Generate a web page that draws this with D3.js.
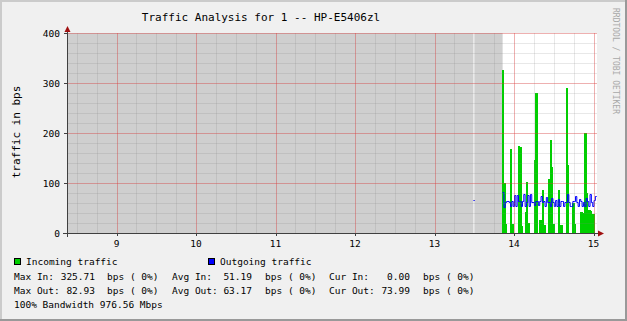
<!DOCTYPE html>
<html>
<head>
<meta charset="utf-8">
<script src="https://cdn.jsdelivr.net/npm/d3@7/dist/d3.min.js"></script>
<style>
  body { margin: 0; background: #f0f0f0; }
  svg { display: block; }
  text { font-family: "DejaVu Sans Mono", monospace; fill: #000; }
</style>
</head>
<body>
<svg id="chart" width="627" height="321"></svg>
<script>
// Datos (muestras de 1 minuto, la primera a las 13:29)
var firstSample = 13.49;   // hora de la primera muestra
var stepMin = 1;           // minutos por muestra

var incoming = [0,
  null, null, null, null, null, null, null, null, null, null, null,
  null, null, null, null, null, null, null, null, null, null,
  326, 100, 18, 0, 0, 0, 168, 18, 0, 0,
  0, 0, 174, 172, 15, 0, 0, 43, 102, 20,
  0, 0, 0, 0, 146, 281, 0, 0, 26, 0,
  86, 16, 0, 0, 0, 109, 186, 133, 18, 0,
  0, 0, 85, 16, 16, 0, 0, 0, 291, 136,
  0, 0, 0, 61, 18, 0, 0, 0, 0, 43,
  40, 40, 199, 80, 0, 47, 45, 38, 38, 0, 0];

var outgoing = [66,
  null, null, null, null, null, null, null, null, null, null, null,
  null, null, null, null, null, null, null, null, null, null,
  83, 53, 62, 64, 64, 62, 55, 65, 55, 77,
  55, 76, 64, 64, 55, 64, 79, 55, 63, 76,
  55, 79, 63, 63, 57, 64, 64, 57, 64, 74,
  63, 64, 55, 73, 63, 63, 55, 71, 63, 55,
  66, 55, 69, 55, 64, 64, 55, 63, 63, 78,
  63, 55, 55, 65, 65, 74, 63, 55, 69, 64,
  55, 62, 55, 71, 64, 55, 78, 63, 55, 66, 74];

var xTicks = [9, 10, 11, 12, 13, 14, 15];
var yTicks = [0, 100, 200, 300, 400];

var legendRows = [
  [["Max In:", 14, "start"], ["325.71", 95, "end"], ["bps ( 0%)", 107, "start"],
   ["Avg In:", 172, "start"], ["51.19", 252, "end"], ["bps ( 0%)", 265, "start"],
   ["Cur In:", 329, "start"], ["0.00", 410, "end"], ["bps ( 0%)", 423, "start"]],
  [["Max Out:", 14, "start"], ["82.93", 95, "end"], ["bps ( 0%)", 107, "start"],
   ["Avg Out:", 172, "start"], ["63.17", 252, "end"], ["bps ( 0%)", 265, "start"],
   ["Cur Out:", 329, "start"], ["73.99", 410, "end"], ["bps ( 0%)", 423, "start"]]
];

var svg = d3.select("#chart");
var W = 627, H = 321;

// Fondo con sombra estilo rrdtool
svg.append("rect").attr("width", W).attr("height", H).attr("fill", "#f0f0f0");
svg.append("rect").attr("x", 0).attr("y", 0).attr("width", W).attr("height", 2).attr("fill", "#cbcbcb");
svg.append("rect").attr("x", 0).attr("y", 0).attr("width", 2).attr("height", H).attr("fill", "#cbcbcb");
svg.append("rect").attr("x", 0).attr("y", H - 2).attr("width", W).attr("height", 2).attr("fill", "#999999");
svg.append("rect").attr("x", W - 2).attr("y", 0).attr("width", 2).attr("height", H).attr("fill", "#999999");

// Escalas
var x = d3.scaleLinear().domain([8.377, 15.044]).range([67, 597]);
var y = d3.scaleLinear().domain([0, 400]).range([233, 33]);

var defs = svg.append("defs");
defs.append("clipPath").attr("id", "plot")
  .append("rect").attr("x", x.range()[0]).attr("y", y.range()[1])
  .attr("width", x.range()[1] - x.range()[0]).attr("height", y.range()[0] - y.range()[1]);

// Area del grafico
svg.append("rect")
  .attr("x", x.range()[0]).attr("y", y.range()[1])
  .attr("width", x.range()[1] - x.range()[0]).attr("height", y.range()[0] - y.range()[1])
  .attr("fill", "#ffffff");

var hourOf = function(i) { return firstSample + i * stepMin / 60; };

// Zonas sin datos (gris)
var gaps = [[x.domain()[0], firstSample]];
var gapStart = null;
incoming.forEach(function(v, i) {
  if (v === null && gapStart === null) gapStart = hourOf(i);
  if (v !== null && gapStart !== null) { gaps.push([gapStart, hourOf(i)]); gapStart = null; }
});
svg.append("g").attr("clip-path", "url(#plot)")
  .selectAll("rect").data(gaps).enter().append("rect")
  .attr("x", d => x(d[0]))
  .attr("width", d => x(d[1]) - x(d[0]))
  .attr("y", y(400)).attr("height", y(0) - y(400))
  .attr("fill", "#cfcfcf");

var plotG = svg.append("g").attr("clip-path", "url(#plot)");

// Trafico entrante (barras verdes, una por muestra)
var bars = incoming.map(function(v, i) { return { i: i, v: v }; })
  .filter(d => d.v !== null && d.v > 0);
plotG.selectAll(".in").data(bars).enter().append("rect")
  .attr("x", d => Math.floor(x(hourOf(d.i))))
  .attr("width", d => Math.ceil(x(hourOf(d.i + 1))) - Math.floor(x(hourOf(d.i))))
  .attr("y", d => Math.round(y(d.v)))
  .attr("height", d => y(0) - Math.round(y(d.v)))
  .attr("fill", "#00cf00")
  .attr("shape-rendering", "crispEdges");

// Rejilla
var minorX = d3.range(Math.ceil(x.domain()[0] * 4), Math.floor(x.domain()[1] * 4) + 1).map(d => d / 4);
var minorY = d3.range(0, 401, 20);
var grid = svg.append("g").attr("shape-rendering", "crispEdges");
grid.selectAll(".mx").data(minorX).enter().append("line")
  .attr("x1", d => Math.round(x(d)) + 0.5).attr("x2", d => Math.round(x(d)) + 0.5)
  .attr("y1", y(400)).attr("y2", y(0))
  .attr("stroke", "rgba(128,128,128,0.18)");
grid.selectAll(".my").data(minorY).enter().append("line")
  .attr("x1", x.range()[0]).attr("x2", x.range()[1])
  .attr("y1", d => Math.round(y(d)) + 0.5).attr("y2", d => Math.round(y(d)) + 0.5)
  .attr("stroke", "rgba(128,128,128,0.18)");
grid.selectAll(".Mx").data(xTicks).enter().append("line")
  .attr("x1", d => Math.round(x(d)) + 0.5).attr("x2", d => Math.round(x(d)) + 0.5)
  .attr("y1", y(400)).attr("y2", y(0))
  .attr("stroke", "rgba(255,32,32,0.28)");
grid.selectAll(".My").data(yTicks).enter().append("line")
  .attr("x1", x.range()[0]).attr("x2", x.range()[1])
  .attr("y1", d => Math.round(y(d)) + 0.5).attr("y2", d => Math.round(y(d)) + 0.5)
  .attr("stroke", "rgba(255,32,32,0.28)");

// Construir puntos en escalon
function stepPoints(arr) {
  var pts = [];
  arr.forEach(function(v, i) {
    if (v === null) { pts.push({ t: hourOf(i), v: null }); return; }
    pts.push({ t: hourOf(i), v: v });
    if (i + 1 >= arr.length || arr[i + 1] === null) pts.push({ t: hourOf(i + 1), v: v });
  });
  return pts;
}

// Trafico saliente (linea azul)
var line = d3.line()
  .defined(d => d.v !== null)
  .curve(d3.curveStepAfter)
  .x(d => x(d.t))
  .y(d => Math.round(y(d.v)) + 0.5);
plotG.append("path")
  .datum(stepPoints(outgoing))
  .attr("d", line)
  .attr("fill", "none")
  .attr("stroke", "#0000ff")
  .attr("stroke-width", 1);

// Ejes
var axisG = svg.append("g").attr("shape-rendering", "crispEdges");
axisG.append("line").attr("x1", 63).attr("x2", 599).attr("y1", y(0) + 0.5).attr("y2", y(0) + 0.5).attr("stroke", "#404040");
axisG.append("line").attr("x1", 67.5).attr("x2", 67.5).attr("y1", y(0) + 4).attr("y2", 30).attr("stroke", "#404040");
xTicks.forEach(function(t) {
  axisG.append("line").attr("x1", Math.round(x(t)) + 0.5).attr("x2", Math.round(x(t)) + 0.5)
    .attr("y1", y(0)).attr("y2", y(0) + 3).attr("stroke", "#404040");
});
yTicks.forEach(function(t) {
  axisG.append("line").attr("x1", 64).attr("x2", 67).attr("y1", Math.round(y(t)) + 0.5)
    .attr("y2", Math.round(y(t)) + 0.5).attr("stroke", "#404040");
});
// Flechas
svg.append("path").attr("d", "M598,230.5 L604,233.5 L598,236.5 Z").attr("fill", "#a01010");
svg.append("path").attr("d", "M64.5,32 L67.5,26 L70.5,32 Z").attr("fill", "#a01010");

// Etiquetas de los ejes
svg.selectAll(".xl").data(xTicks).enter().append("text")
  .attr("x", d => x(d)).attr("y", 247)
  .attr("text-anchor", "middle").attr("font-size", "9.5px")
  .text(d => d);
svg.selectAll(".yl").data(yTicks).enter().append("text")
  .attr("x", 60).attr("y", d => y(d) + 3.5)
  .attr("text-anchor", "end").attr("font-size", "9.5px")
  .text(d => d);

// Titulo
svg.append("text").attr("x", 261).attr("y", 21).attr("text-anchor", "middle")
  .attr("font-size", "11px").text("Traffic Analysis for 1 -- HP-E5406zl");

// Titulo eje Y
svg.append("text").attr("transform", "translate(20,132) rotate(-90)")
  .attr("text-anchor", "middle").attr("font-size", "11px").text("traffic in bps");

// Marca de agua
svg.append("text").attr("transform", "translate(613,8) rotate(90)")
  .attr("font-size", "8px").style("fill", "#a8a8a8").text("RRDTOOL / TOBI OETIKER");

// Leyenda
svg.append("rect").attr("x", 14.5).attr("y", 258.5).attr("width", 6).attr("height", 6)
  .attr("fill", "#00cf00").attr("stroke", "#000").attr("stroke-width", 1);
svg.append("text").attr("x", 26).attr("y", 265).attr("font-size", "9.5px").text("Incoming traffic");
svg.append("rect").attr("x", 208.5).attr("y", 258.5).attr("width", 6).attr("height", 6)
  .attr("fill", "#0000ff").attr("stroke", "#000").attr("stroke-width", 1);
svg.append("text").attr("x", 220).attr("y", 265).attr("font-size", "9.5px").text("Outgoing traffic");

legendRows.forEach(function(row, r) {
  row.forEach(function(p) {
    svg.append("text").attr("x", p[1]).attr("y", 279.5 + r * 14)
      .attr("text-anchor", p[2]).attr("font-size", "9.5px")
      .style("white-space", "pre").text(p[0]);
  });
});
svg.append("text").attr("x", 14).attr("y", 307.5).attr("font-size", "9.5px")
  .text("100% Bandwidth 976.56 Mbps");
</script>
</body>
</html>
